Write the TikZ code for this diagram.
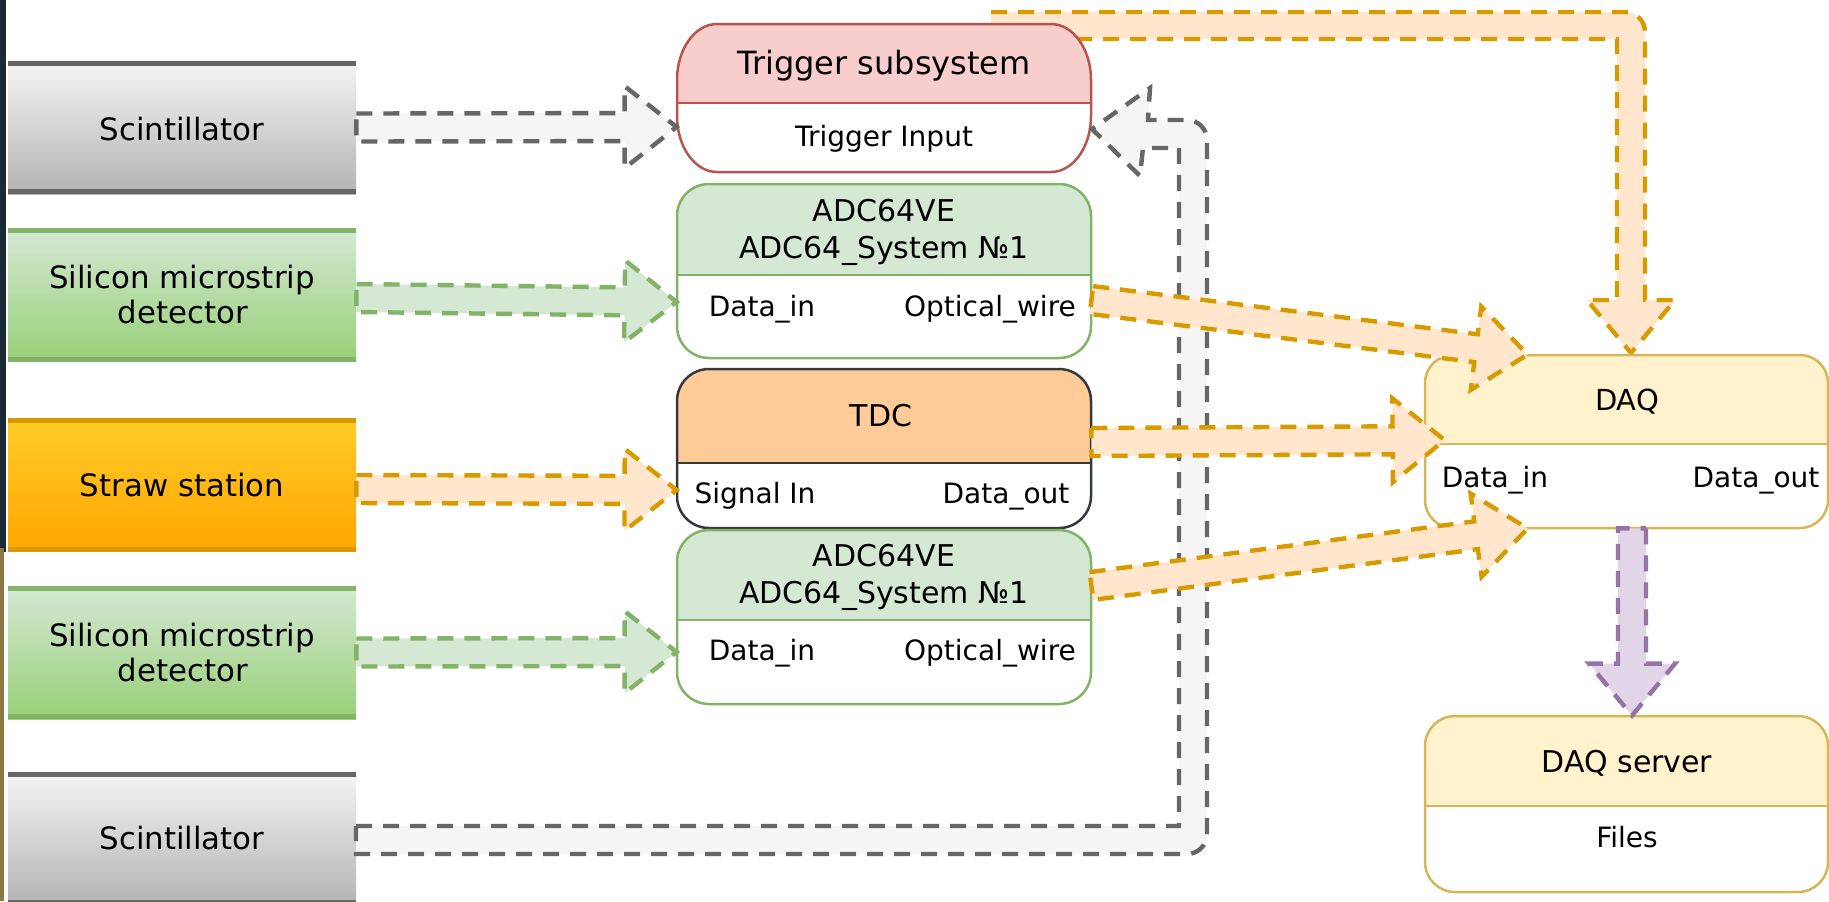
\documentclass[tikz,border=0pt]{standalone}
\usepackage{fontspec}
\setmainfont{DejaVu Sans}
\usetikzlibrary{calc}
\definecolor{navystrip}{HTML}{1B2A35}
\definecolor{brownstrip}{HTML}{8C7843}
\definecolor{scintTop}{HTML}{F5F5F5}
\definecolor{scintBot}{HTML}{B3B3B3}
\definecolor{scintLine}{HTML}{666666}
\definecolor{siTop}{HTML}{D5E8D4}
\definecolor{siBot}{HTML}{97D077}
\definecolor{siLine}{HTML}{82B366}
\definecolor{strawTop}{HTML}{FFCD28}
\definecolor{strawBot}{HTML}{FFA500}
\definecolor{strawLine}{HTML}{D79B00}
\definecolor{trigfill}{HTML}{F8CECC}
\definecolor{trigline}{HTML}{B85450}
\definecolor{adcfill}{HTML}{D5E8D4}
\definecolor{adcline}{HTML}{82B366}
\definecolor{tdcfill}{HTML}{FFCC99}
\definecolor{tdcline}{HTML}{36393D}
\definecolor{daqfill}{HTML}{FFF2CC}
\definecolor{daqline}{HTML}{D6B656}
\definecolor{grayfill}{HTML}{F5F5F5}
\definecolor{grayline}{HTML}{666666}
\definecolor{greenfill}{HTML}{D5E8D4}
\definecolor{greenline}{HTML}{82B366}
\definecolor{orangefill}{HTML}{FFE6CC}
\definecolor{orangeline}{HTML}{D79B00}
\definecolor{purplefill}{HTML}{E1D5E7}
\definecolor{purpleline}{HTML}{9673A6}

\tikzset{
  boxline/.style={line width=1.25pt},
  arrline/.style={line width=2.2pt, dash pattern=on 8pt off 5.5pt},
  tA/.style={inner sep=0pt, font=\fontsize{15.4pt}{18pt}\selectfont, text height=11.2pt, text depth=0pt},
  tB/.style={inner sep=0pt, font=\fontsize{16pt}{18pt}\selectfont, text height=11.6pt, text depth=0pt},
  tC/.style={inner sep=0pt, font=\fontsize{14pt}{17pt}\selectfont, text height=10.2pt, text depth=0pt},
  tD/.style={inner sep=0pt, font=\fontsize{14pt}{17pt}\selectfont, text height=10.2pt, text depth=0pt},
  tE/.style={inner sep=0pt, font=\fontsize{14.5pt}{17pt}\selectfont, text height=10.6pt, text depth=0pt},
  tF/.style={inner sep=0pt, font=\fontsize{15pt}{18pt}\selectfont, text height=10.9pt, text depth=0pt},
}

% rounded rectangle path with elliptic corners (x1,y1,x2,y2,rx,ry in px)
\newcommand\rr[6]{(#1+#5,#2) -- (#3-#5,#2) arc[start angle=90,end angle=0,x radius={#5*0.5pt},y radius={#6*0.5pt}] -- (#3,#4-#6) arc[start angle=0,end angle=-90,x radius={#5*0.5pt},y radius={#6*0.5pt}] -- (#1+#5,#4) arc[start angle=-90,end angle=-180,x radius={#5*0.5pt},y radius={#6*0.5pt}] -- (#1,#2+#6) arc[start angle=180,end angle=90,x radius={#5*0.5pt},y radius={#6*0.5pt}] -- cycle}

% swimlane box: name, x1, y1, x2, y2, ydiv, rx, ry, colour key
\newcommand\swim[9]{%
  \begin{scope}
    \clip \rr{#2}{#3}{#4}{#5}{#7}{#8};
    \fill[#9fill] (#2,#3) rectangle (#4,#6);
    \fill[white] (#2,#6) rectangle (#4,#5);
  \end{scope}
  \draw[#9line, boxline] \rr{#2}{#3}{#4}{#5}{#7}{#8};
  \draw[#9line, boxline] (#2,#6) -- (#4,#6);
  \node[inner sep=0pt, minimum width={(#4-#2)*0.5pt}, minimum height={(#5-#3)*0.5pt}] (#1) at ({(#2+#4)/2},{(#3+#5)/2}) {};
}

% left gradient box: name, ycenter, top colour, bottom colour, line colour
\newcommand\leftbox[5]{%
  \node[inner sep=0pt, minimum width=174pt, minimum height=66.5pt, top color=#3, bottom color=#4] (#1) at (182,#2) {};
  \draw[#5, line width=2.5pt] ($(#1.north west)+(0,2.5)$) -- ($(#1.north east)+(0,2.5)$);
  \draw[#5, line width=2.5pt] ($(#1.south west)+(0,-2.5)$) -- ($(#1.south east)+(0,-2.5)$);
}

% straight flex arrow: start, end, colour key, half shaft, half head, head length
\newcommand\flexarr[6]{%
  \coordinate (fa-s) at (#1);
  \coordinate (fa-e) at (#2);
  \coordinate (fa-h) at ($(fa-e)!#6!(fa-s)$);
  \filldraw[fill=#3fill, draw=#3line, arrline]
    ($(fa-s)!#4!90:(fa-e)$) -- ($(fa-h)!#4!90:(fa-e)$) -- ($(fa-h)!#5!90:(fa-e)$) -- (fa-e) --
    ($(fa-h)!#5!-90:(fa-e)$) -- ($(fa-h)!#4!-90:(fa-e)$) -- ($(fa-s)!#4!-90:(fa-e)$) -- cycle;
}

\begin{document}
\begin{tikzpicture}[x=0.5pt,y=-0.5pt]
\useasboundingbox (0,0) rectangle (1829,901);
\fill[white] (0,0) rectangle (1829,901);
\fill[navystrip] (0,0) rectangle (6,552);
\fill[brownstrip] (0,548) rectangle (4,901);

% left detector boxes
\leftbox{scint1}{127.5}{scintTop}{scintBot}{scintLine}
\leftbox{sil1}{295}{siTop}{siBot}{siLine}
\leftbox{straw}{485}{strawTop}{strawBot}{strawLine}
\leftbox{sil2}{652.5}{siTop}{siBot}{siLine}
\leftbox{scint2}{838.5}{scintTop}{scintBot}{scintLine}

\node[tA] (scint1t) at (182,129) {Scintillator};
\node[tA] (sil1a) at (182,277) {Silicon microstrip};
\node[tA] (sil1b) at (183,312) {detector};
\node[tA] (strawt) at (182,485) {Straw station};
\node[tA] (sil2a) at (182,635) {Silicon microstrip};
\node[tA] (sil2b) at (183,670) {detector};
\node[tA] (scint2t) at (182,838) {Scintillator};

% trigger -> DAQ (top, behind trigger box)
\fill[orangefill] (991,12) -- (1625,12) arc[start angle=90,end angle=0,radius=10pt] -- (1645,300) -- (1675,300) -- (1631,353) -- (1587,300) -- (1617,300) -- (1617,39) -- (991,39) -- cycle;
\draw[orangeline, arrline] (991,12) -- (1625,12) arc[start angle=90,end angle=0,radius=10pt] -- (1645,300) -- (1675,300) -- (1631,353) -- (1587,300) -- (1617,300) -- (1617,39) -- (991,39);

% middle boxes
\swim{trig}{677}{24}{1091}{172}{103}{40}{56}{trig}
\swim{adc1}{677}{184}{1091}{358}{275}{32}{32}{adc}
\swim{tdc}{677}{369}{1091}{528}{463}{32}{32}{tdc}
\swim{adc2}{677}{530}{1091}{704}{620}{32}{32}{adc}
\swim{daq}{1425}{355}{1828}{528}{444}{28}{28}{daq}
\swim{daqs}{1425}{716}{1828}{892}{806}{30}{30}{daq}

\node[tB] (trigT) at (884,63) {Trigger subsystem};
\node[tD] (trigI) at (884,136) {Trigger Input};
\node[tF] (adc1a) at (884,211) {ADC64VE};
\node[tF] (adc1b) at (884,248) {ADC64\_System №1};
\node[tC] (adc1in) at (762,306) {Data\_in};
\node[tC] (adc1out) at (990,306) {Optical\_wire};
\node[tF] (tdcT) at (881,416) {TDC};
\node[tC] (tdcin) at (755,493) {Signal In};
\node[tC] (tdcout) at (1006,493) {Data\_out};
\node[tF] (adc2a) at (884,556) {ADC64VE};
\node[tF] (adc2b) at (884,593) {ADC64\_System №1};
\node[tC] (adc2in) at (762,650) {Data\_in};
\node[tC] (adc2out) at (990,650) {Optical\_wire};
\node[tE] (daqT) at (1627,400) {DAQ};
\node[tC] (daqin) at (1495,477) {Data\_in};
\node[tC] (daqout) at (1756,477) {Data\_out};
\node[tF] (daqsT) at (1627,762) {DAQ server};
\node[tC] (daqsF) at (1627,837) {Files};

% scintillator 2 -> trigger (return path)
\filldraw[fill=grayfill, draw=grayline, arrline] (356,826) -- (1179,826) -- (1179,148) -- (1143,148) -- (1140,176) -- (1092,129) -- (1150,88) -- (1148,120) -- (1187,120) arc[start angle=90,end angle=0,radius=10pt] -- (1207,834) arc[start angle=0,end angle=-90,radius=10pt] -- (356,854) -- cycle;

% detectors -> front-end
\flexarr{$(scint1.east)$}{$(trig.west)+(0,29)$}{gray}{7pt}{20.5pt}{26pt}
\flexarr{$(sil1.east)+(0,3)$}{$(adc1.west)+(0,31)$}{green}{7pt}{20.5pt}{26pt}
\flexarr{$(straw.east)+(0,4)$}{$(tdc.west)+(0,41.5)$}{orange}{7pt}{20.5pt}{26pt}
\flexarr{$(sil2.east)$}{$(adc2.west)+(0,35)$}{green}{7pt}{20.5pt}{26pt}

% front-end -> DAQ
\flexarr{$(adc1.east)+(0,29)$}{$(daq.north west)+(103,0)$}{orange}{7pt}{21pt}{26pt}
\flexarr{$(tdc.east)+(0,-6.5)$}{$(daq.west)+(20,-1.5)$}{orange}{7pt}{21pt}{26pt}
\flexarr{$(adc2.east)+(0,-31)$}{$(daq.south west)+(103,0)$}{orange}{7pt}{21pt}{26pt}

% DAQ -> DAQ server
\flexarr{$(daq.south)+(5.5,0)$}{$(daqs.north)+(5.5,0)$}{purple}{7pt}{21.5pt}{26pt}
\end{tikzpicture}
\end{document}
